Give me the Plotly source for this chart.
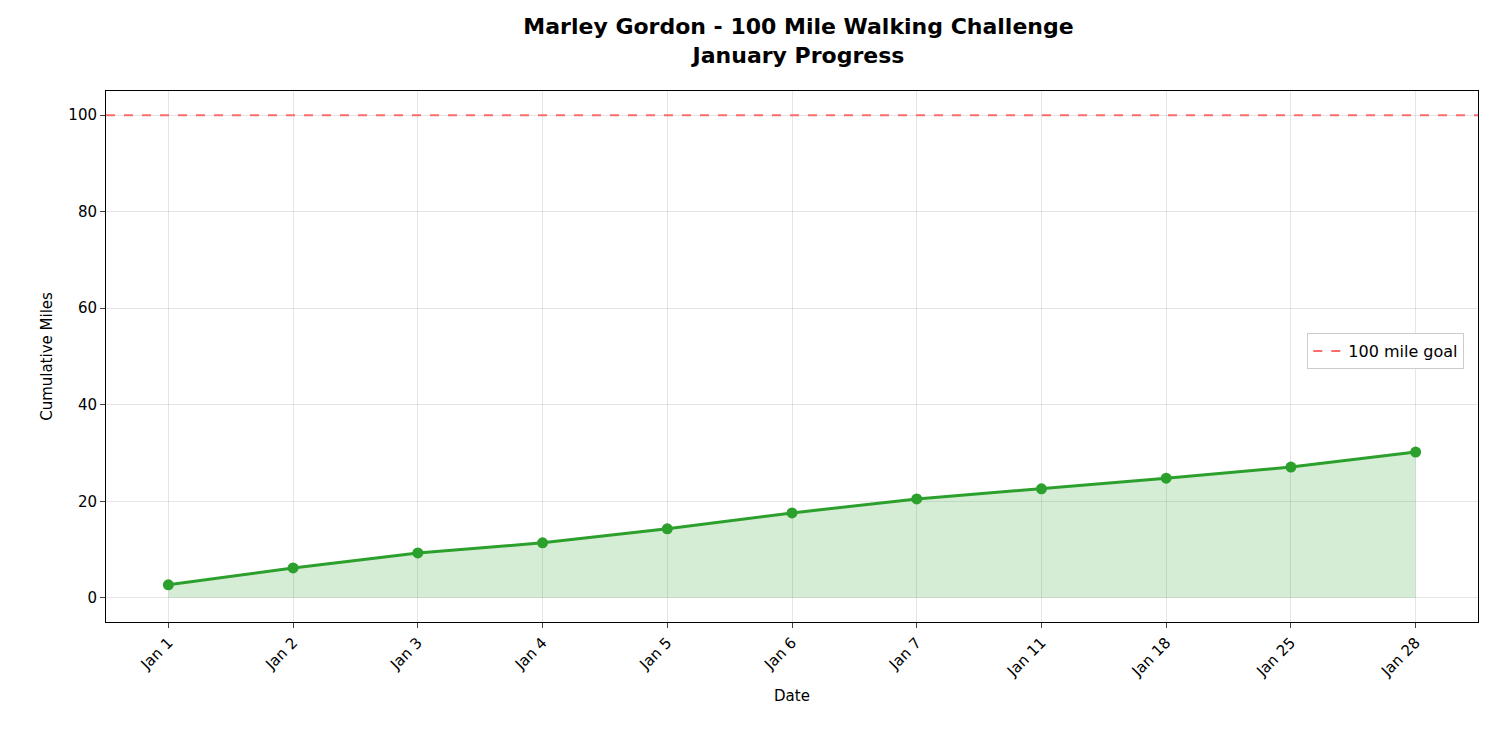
import plotly.graph_objects as go

# data
dates = ["Jan 1", "Jan 2", "Jan 3", "Jan 4", "Jan 5", "Jan 6", "Jan 7",
         "Jan 11", "Jan 18", "Jan 25", "Jan 28"]
cumulative_miles = [2.7, 6.2, 9.3, 11.4, 14.3, 17.6, 20.5, 22.6, 24.8, 27.1, 30.2]
goal_miles = 100

green = "#2ca02c"

fig = go.Figure()

# shaded area under the progress line
fig.add_trace(go.Scatter(
    x=dates, y=cumulative_miles,
    mode="lines", fill="tozeroy",
    fillcolor="rgba(44,160,44,0.2)",
    line=dict(color="rgba(44,160,44,0.25)", width=1),
    showlegend=False, hoverinfo="skip"
))

fig.add_trace(go.Scatter(
    x=dates, y=cumulative_miles,
    mode="lines+markers",
    line=dict(color=green, width=3),
    marker=dict(color=green, size=11),
    showlegend=False
))

# goal line
fig.add_trace(go.Scatter(
    x=[-0.5, len(dates) - 0.5], y=[goal_miles, goal_miles],
    xaxis="x2", mode="lines",
    line=dict(color="#ff6b6b", width=2, dash="dash"),
    name="100 mile goal"
))

fig.update_layout(
    width=1500, height=750,
    paper_bgcolor="white", plot_bgcolor="white",
    font=dict(family="DejaVu Sans", size=15, color="black"),
    title=dict(
        text="<b>Marley Gordon - 100 Mile Walking Challenge<br>January Progress</b>",
        x=0.527, xanchor="center", y=0.965, yanchor="top",
        font=dict(size=22)
    ),
    margin=dict(l=98, r=30, t=83, b=136),
    xaxis=dict(
        type="category", range=[-0.5, len(dates) - 0.5],
        tickangle=-45, showgrid=True, gridcolor="rgba(0,0,0,0.1)",
        showline=True, linecolor="black", mirror=True,
        ticks="outside", ticklen=5, tickfont=dict(size=15),
        title=dict(text="Date", standoff=10, font=dict(size=15))
    ),
    xaxis2=dict(overlaying="x", range=[-0.5, len(dates) - 0.5], visible=False),
    yaxis=dict(
        range=[-5, 105], tickvals=[0, 20, 40, 60, 80, 100],
        showgrid=True, gridcolor="rgba(0,0,0,0.1)", zeroline=False,
        showline=True, linecolor="black", mirror=True,
        ticks="outside", ticklen=5, tickfont=dict(size=15),
        title=dict(text="Cumulative Miles", standoff=12, font=dict(size=15))
    ),
    legend=dict(
        x=0.99, xanchor="right", y=0.51, yanchor="middle",
        bordercolor="#cccccc", borderwidth=1, bgcolor="white",
        font=dict(size=16)
    )
)

fig.write_html("out.html")
